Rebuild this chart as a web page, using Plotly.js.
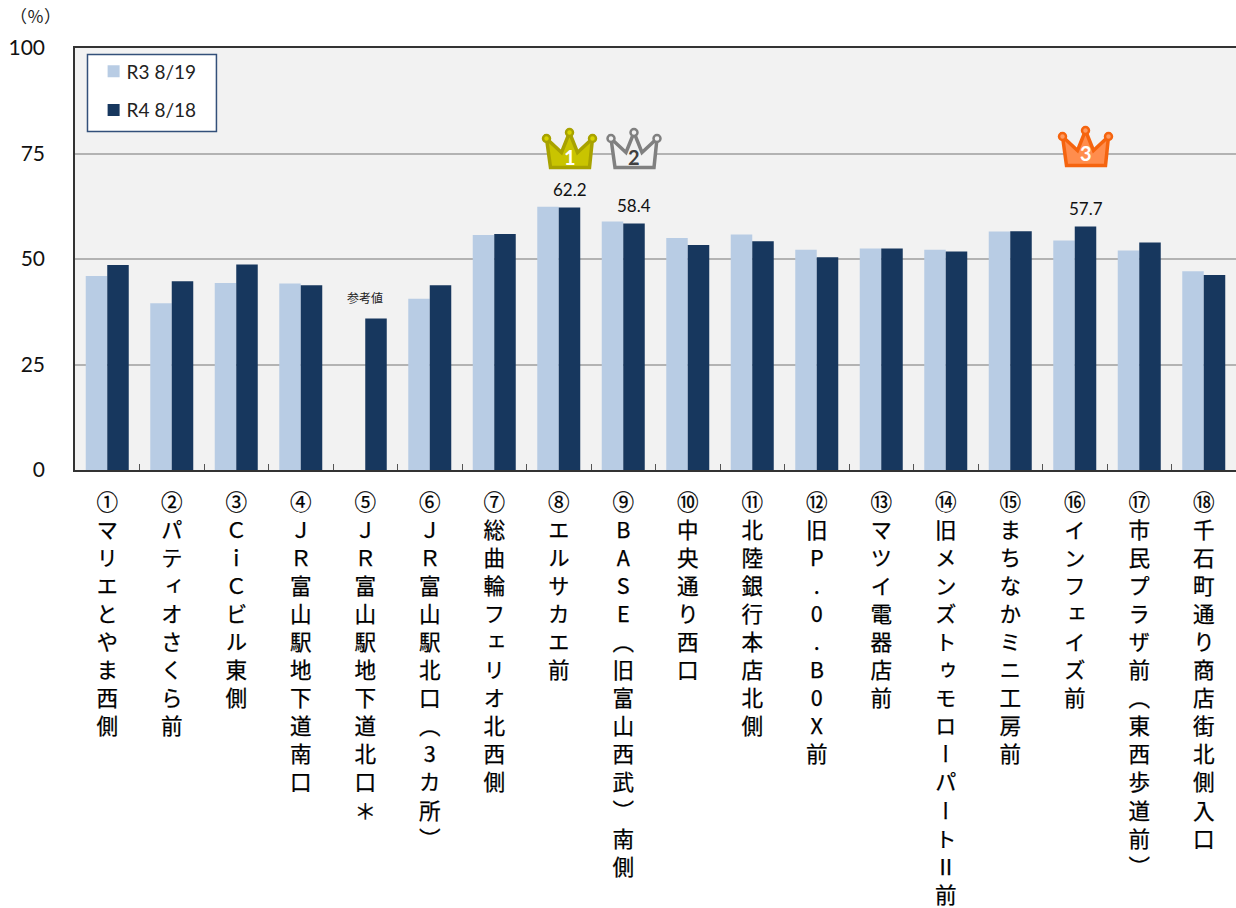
<!DOCTYPE html>
<html><head><meta charset="utf-8">
<script src="https://cdn.plot.ly/plotly-3.0.1.min.js"></script>
<style>html,body{margin:0;padding:0;background:#fff}
#c{width:1236px;height:908px}
.xtick text{font-feature-settings:"vert" 1;stroke:#000;stroke-width:.25px;}
.legend .legendpoints{transform:translateX(7px);}
</style></head><body><div id="c"></div>
<script>
const places = ["①マリエとやま西側","②パティオさくら前","③ＣｉＣビル東側","④ＪＲ富山駅地下道南口","⑤ＪＲ富山駅地下道北口＊","⑥ＪＲ富山駅北口（3カ所）","⑦総曲輪フェリオ北西側","⑧エルサカエ前","⑨BASE（旧富山西武）南側","⑩中央通り西口","⑪北陸銀行本店北側","⑫旧P.0.B0X前","⑬マツイ電器店前","⑭旧メンズトゥモローパートⅡ前","⑮まちなかミニ工房前","⑯インフェイズ前","⑰市民プラザ前（東西歩道前）","⑱千石町通り商店街北側入口"];
const r3Values = [46.0,39.5,44.3,44.2,null,40.6,55.7,62.4,58.9,55.0,55.8,52.2,52.5,52.2,56.5,54.4,52.0,47.1];
const r4Values = [48.6,44.7,48.7,43.8,35.9,43.8,55.9,62.2,58.4,53.3,54.2,50.4,52.5,51.8,56.6,57.7,53.9,46.2];
const seriesNames = ["R3 8/19","R4 8/18"];
const yTicks = [0,25,50,75,100];
const topThree = [7,8,15];

const cats = places.map(s => Array.from(s).join("<br>"));
const latin = "Lato, sans-serif";
const cjk = "'Noto Sans CJK JP', sans-serif";

const crownStyles = [
  {fill:"#c9c400", line:"#a8a200", inner:"#d8d400", num:"#ffffff", dy:0},
  {fill:"#f2f2f2", line:"#808080", inner:"#f2f2f2", num:"#404040", dy:0},
  {fill:"#ff8d4d", line:"#f5640f", inner:"#ff9a60", num:"#ffffff", dy:2}
];
const shapes = [{type:"rect", xref:"paper", yref:"paper", x0:0.01076, x1:0.12183, y0:0.8024, y1:0.9846,
  fillcolor:"#ffffff", line:{color:"#33507a",width:1.5}, layer:"above"}];
const annotations = [];
topThree.forEach((idx,i) => {
  const st = crownStyles[i], x = idx + 1/6, d = st.dy;
  shapes.push({type:"path", xref:"x", yref:"y", xsizemode:"pixel", ysizemode:"pixel", xanchor:x, yanchor:75,
    path:`M-23,${15+d} L-8,${1+d} L0,${21+d} L8,${1+d} L23,${15+d} L20,${-14+d} L-19,${-14+d} Z`,
    fillcolor:st.fill, line:{color:st.line,width:3.5}, layer:"above"});
  [[-23,15],[0,21],[23,15]].forEach(p => shapes.push({type:"circle", xref:"x", yref:"y", xsizemode:"pixel", ysizemode:"pixel", xanchor:x, yanchor:75,
    x0:p[0]-3.5, x1:p[0]+3.5, y0:p[1]+d-3.5, y1:p[1]+d+3.5, fillcolor:st.inner, line:{color:st.line,width:2.5}, layer:"above"}));
  annotations.push({x:x, y:75, xref:"x", yref:"y", yshift:-3+2*d, text:String(i+1), showarrow:false,
    font:{family:latin,size:20,color:st.num,weight:700}});
  annotations.push({x:x, y:r4Values[idx], xref:"x", yref:"y", yanchor:"bottom", yshift:6, text:r4Values[idx].toFixed(1), showarrow:false,
    font:{family:latin,size:17,color:"#111"}});
});
annotations.push({x:4, y:40.9, xref:"x", yref:"y", text:"参考値", showarrow:false, font:{family:cjk,size:12,color:"#222"}});
annotations.push({xref:"paper", yref:"paper", x:-0.034, y:1.078, xanchor:"center", yanchor:"middle", text:"（％）", showarrow:false, font:{family:cjk,size:17,color:"#222"}});

const bar = (name,vals,color) => ({type:"bar", name, x:cats, y:vals, marker:{color}, legendgroup:name});
Plotly.newPlot("c",[bar(seriesNames[0],r3Values,"#b8cce4"), bar(seriesNames[1],r4Values,"#17375e")],{
  width:1236, height:908, margin:{l:74.5,r:0,t:47.5,b:438,pad:0},
  paper_bgcolor:"#fff", plot_bgcolor:"#f2f2f2",
  barmode:"group", bargap:1/3, bargroupgap:0, showlegend:true,
  legend:{x:0.0100,y:0.9895,xanchor:"left",yanchor:"top",bgcolor:"rgba(0,0,0,0)",borderwidth:0,
    font:{family:latin,size:19,color:"#222"},traceorder:"grouped",tracegroupgap:11,itemclick:false},
  xaxis:{type:"category",tickson:"boundaries",ticks:"inside",ticklen:6,tickcolor:"#555",tickwidth:1,tickangle:0,
    showline:true,linecolor:"#333",linewidth:1.5,mirror:true,showgrid:false,automargin:false,
    tickfont:{family:cjk,size:21.6,color:"#000"},ticklabelstandoff:12},
  yaxis:{range:[0,100],tickmode:"array",tickvals:yTicks,ticktext:yTicks.map(String),ticks:"",showline:true,linecolor:"#333",linewidth:1.5,
    gridcolor:"#b3b3b3",gridwidth:1.5,zeroline:false,automargin:false,tickfont:{family:latin,size:21,color:"#111"},ticklabelstandoff:24},
  shapes, annotations
},{displayModeBar:false});
</script></body></html>
